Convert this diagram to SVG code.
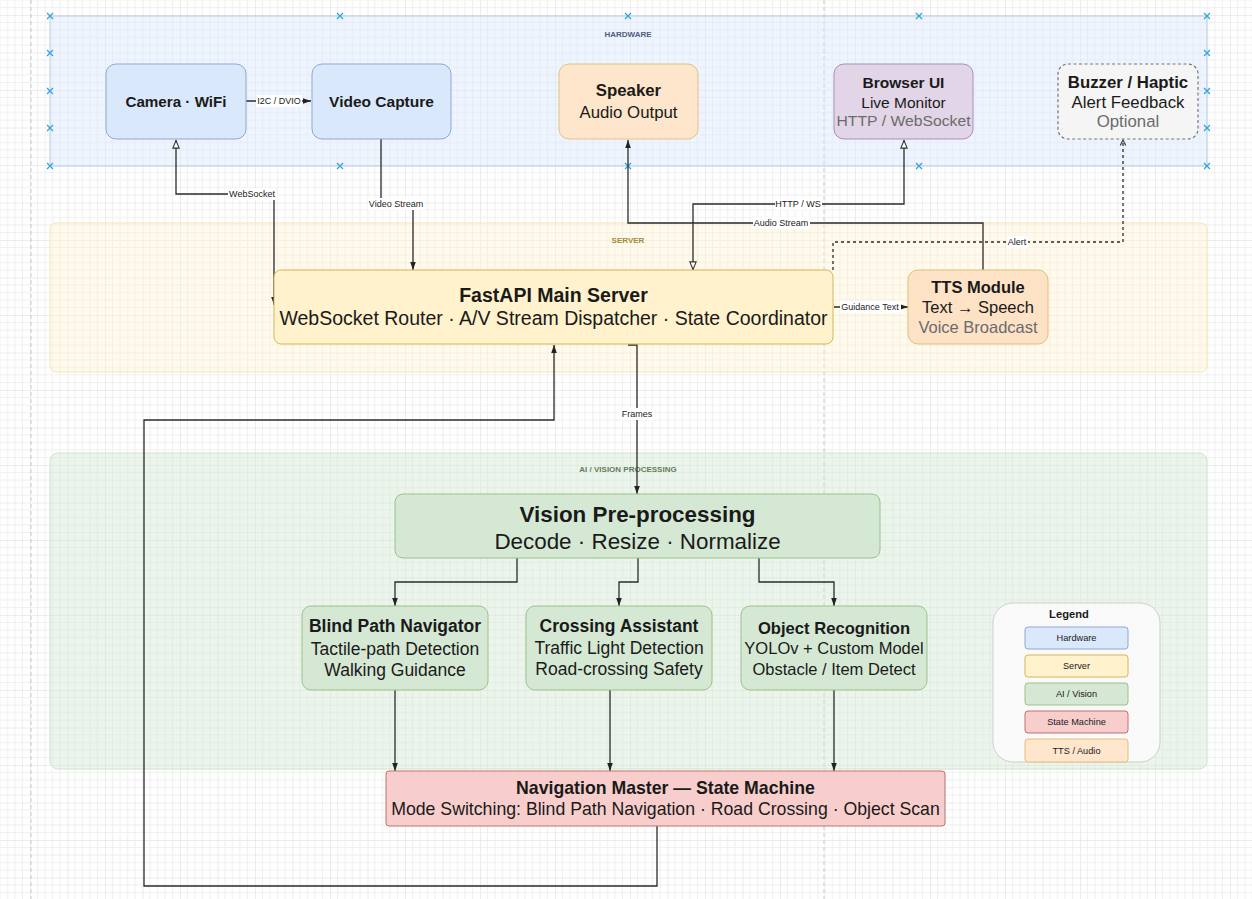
<svg xmlns="http://www.w3.org/2000/svg" width="1252" height="899" viewBox="0 0 1252 899">
<defs>
<pattern id="grid" x="30" y="15" width="37.5" height="37.5" patternUnits="userSpaceOnUse">
<path d="M7.5,0V37.5M15,0V37.5M22.5,0V37.5M30,0V37.5M0,7.5H37.5M0,15H37.5M0,22.5H37.5M0,30H37.5" stroke="#efefef" stroke-width="1" fill="none"/>
<path d="M0,0V37.5M0,0H37.5" stroke="#dcdcdc" stroke-width="1" fill="none"/>
</pattern>
<marker id="af" viewBox="0 0 10 10" refX="10" refY="5" markerWidth="8" markerHeight="8" markerUnits="userSpaceOnUse" orient="auto-start-reverse"><path d="M0,1.5L10,5L0,8.5Z" fill="#222"/></marker>
<marker id="ah" viewBox="0 0 10 10" refX="10" refY="5" markerWidth="9" markerHeight="9" markerUnits="userSpaceOnUse" orient="auto-start-reverse"><path d="M1,1.5L9.5,5L1,8.5Z" fill="#fff" stroke="#333" stroke-width="1.2"/></marker>
<marker id="ao" viewBox="0 0 10 10" refX="9" refY="5" markerWidth="8" markerHeight="8" markerUnits="userSpaceOnUse" orient="auto"><path d="M2,1.5L9,5L2,8.5" fill="none" stroke="#333" stroke-width="1.3"/></marker>
</defs>
<style>
text{font-family:"Liberation Sans",Arial,sans-serif;fill:#1a1a1a;text-anchor:middle}
.b{font-weight:bold}
.g{fill:#6b6b6b}
.lbl{font-size:9px;fill:#222}
.lb{fill:#fff}
.grp{font-size:8px;font-weight:bold}
.edge{fill:none;stroke:#2b2b2b;stroke-width:1.3}
.hw{fill:#dae8fc;stroke:#8ea9d1;stroke-width:1}
.sv{fill:#fff2cc;stroke:#d6b656;stroke-width:1}
.ai{fill:#d5e8d4;stroke:#9cc28a;stroke-width:1}
.sm{fill:#f8cecc;stroke:#c0706c;stroke-width:1}
.tt{fill:#ffe6cc;stroke:#e0c07a;stroke-width:1}
.x{stroke:#36a3dc;stroke-width:1.3}
.guide{stroke:#c9c9c9;stroke-width:1;stroke-dasharray:4 3}
</style>
<rect width="1252" height="899" fill="#fff"/>
<rect width="1252" height="899" fill="url(#grid)"/>
<line class="guide" x1="31" y1="0" x2="31" y2="899"/>
<line class="guide" x1="824" y1="0" x2="824" y2="899"/>

<g id="group-hardware">
<rect x="50" y="16" width="1157" height="150" fill="#dae8fc" fill-opacity="0.45" stroke="#b3cbe6" stroke-width="1"/>
<text class="grp" x="628" y="37" fill="#4d5f7a" style="fill:#4d5f7a">HARDWARE</text>
</g>
<g id="group-server">
<rect x="50" y="223" width="1157" height="149" rx="6" fill="#fff2cc" fill-opacity="0.4" stroke="#f3e6b8" stroke-width="1"/>
<text class="grp" x="628" y="243" style="fill:#a08c3c">SERVER</text>
</g>
<g id="group-ai">
<rect x="50" y="453" width="1157" height="316" rx="8" fill="#d5e8d4" fill-opacity="0.45" stroke="#cfe3cb" stroke-width="1"/>
<text class="grp" x="628" y="472" style="fill:#5f7d57">AI / VISION PROCESSING</text>
</g>

<g id="handles">
<path class="x" d="M47,13l6,6M53,13l-6,6M337,13l6,6M343,13l-6,6M625,13l6,6M631,13l-6,6M916,13l6,6M922,13l-6,6M1204,13l6,6M1210,13l-6,6
M47,163l6,6M53,163l-6,6M337,163l6,6M343,163l-6,6M625,163l6,6M631,163l-6,6M916,163l6,6M922,163l-6,6M1204,163l6,6M1210,163l-6,6
M47,50l6,6M53,50l-6,6M47,88l6,6M53,88l-6,6M47,125l6,6M53,125l-6,6
M1204,50l6,6M1210,50l-6,6M1204,88l6,6M1210,88l-6,6M1204,125l6,6M1210,125l-6,6"/>
</g>

<g id="connectors">
<path class="edge" d="M246,101H311" marker-end="url(#af)"/>
<path class="edge" d="M176,140V194H274V305" marker-start="url(#ah)" marker-end="url(#af)"/>
<path class="edge" d="M381,139V204H413V270" marker-end="url(#af)"/>
<path class="edge" d="M983,270V223H628V140" marker-end="url(#af)"/>
<path class="edge" d="M693,270V204H904V140" marker-start="url(#ah)" marker-end="url(#ah)"/>
<path class="edge" d="M833,270V242H1123V140" stroke-dasharray="3 3" marker-end="url(#ao)"/>
<path class="edge" d="M834,307H908" marker-end="url(#af)"/>
<path class="edge" d="M628,345H637V494" marker-end="url(#af)"/>
<path class="edge" d="M657,826V886H144V420H554V345" marker-end="url(#af)"/>
<path class="edge" d="M517,558V582H395V606" marker-end="url(#af)"/>
<path class="edge" d="M638,558V582H619V606" marker-end="url(#af)"/>
<path class="edge" d="M759,558V582H834V606" marker-end="url(#af)"/>
<path class="edge" d="M395,690V771" marker-end="url(#af)"/>
<path class="edge" d="M610,690V771" marker-end="url(#af)"/>
<path class="edge" d="M834,690V771" marker-end="url(#af)"/>
<rect class="lb" x="256" y="95" width="46" height="12"/><text class="lbl" x="279" y="104.2">I2C / DVIO</text>
<rect class="lb" x="228" y="188" width="48" height="12"/><text class="lbl" x="252" y="197.2">WebSocket</text>
<rect class="lb" x="368" y="198" width="57" height="12"/><text class="lbl" x="396" y="207.2">Video Stream</text>
<rect class="lb" x="775" y="198" width="47" height="12"/><text class="lbl" x="798" y="207.2">HTTP / WS</text>
<rect class="lb" x="753" y="217" width="57" height="12"/><text class="lbl" x="781" y="226.2">Audio Stream</text>
<rect class="lb" x="1007" y="236" width="21" height="12"/><text class="lbl" x="1017" y="245.2">Alert</text>
<rect class="lb" x="840" y="301" width="61" height="12"/><text class="lbl" x="870" y="310.2">Guidance Text</text>
<rect class="lb" x="621" y="408" width="33" height="12"/><text class="lbl" x="637" y="417.2">Frames</text>
</g>

<g id="camera">
<rect class="hw" x="106" y="64" width="140" height="75" rx="10"/>
<text class="b" x="176" y="107" font-size="15.2">Camera · WiFi</text>
</g>
<g id="video-capture">
<rect class="hw" x="312" y="64" width="139" height="75" rx="10"/>
<text class="b" x="381.5" y="107" font-size="15.5">Video Capture</text>
</g>
<g id="speaker">
<rect x="559" y="64" width="139" height="75" rx="10" fill="#fde6cb" stroke="#e3c382" stroke-width="1"/>
<text class="b" x="628.5" y="96" font-size="16.8">Speaker</text>
<text x="628.5" y="117.5" font-size="16.8">Audio Output</text>
</g>
<g id="browser-ui">
<rect x="834" y="64" width="139" height="75" rx="10" fill="#e1d5e7" stroke="#a88fb8" stroke-width="1"/>
<text class="b" x="903.5" y="88.3" font-size="15.5">Browser UI</text>
<text x="903.5" y="108" font-size="15.5">Live Monitor</text>
<text class="g" x="903.5" y="126" font-size="15" textLength="134" lengthAdjust="spacingAndGlyphs">HTTP / WebSocket</text>
</g>
<g id="buzzer">
<rect x="1058" y="64" width="140" height="75" rx="10" fill="#f5f5f5" stroke="#777" stroke-width="1.2" stroke-dasharray="3 2.5"/>
<text class="b" x="1128" y="87.5" font-size="16.8">Buzzer / Haptic</text>
<text x="1128" y="107.5" font-size="16.8">Alert Feedback</text>
<text class="g" x="1128" y="126.6" font-size="16.8">Optional</text>
</g>
<g id="fastapi">
<rect class="sv" x="274" y="270" width="559" height="74" rx="7"/>
<text class="b" x="553.5" y="301.8" font-size="19.5">FastAPI Main Server</text>
<text x="553.5" y="325.3" font-size="19.5">WebSocket Router · A/V Stream Dispatcher · State Coordinator</text>
</g>
<g id="tts">
<rect x="908" y="270" width="140" height="74" rx="10" fill="#fde2c6" stroke="#e0c07a" stroke-width="1"/>
<text class="b" x="978" y="292.5" font-size="16.5">TTS Module</text>
<text x="978" y="313" font-size="16.5">Text → Speech</text>
<text class="g" x="978" y="332.5" font-size="16.5">Voice Broadcast</text>
</g>
<g id="vision-pre">
<rect class="ai" x="395" y="494" width="485" height="64" rx="8"/>
<text class="b" x="637.5" y="521.8" font-size="22.4">Vision Pre-processing</text>
<text x="637.5" y="548.5" font-size="22.4">Decode · Resize · Normalize</text>
</g>
<g id="blind-path">
<rect class="ai" x="302" y="606" width="186" height="84" rx="9"/>
<text class="b" x="395" y="632" font-size="17.5">Blind Path Navigator</text>
<text x="395" y="655" font-size="17.5">Tactile-path Detection</text>
<text x="395" y="676" font-size="17.5">Walking Guidance</text>
</g>
<g id="crossing">
<rect class="ai" x="526" y="606" width="186" height="84" rx="9"/>
<text class="b" x="619" y="632" font-size="17.5">Crossing Assistant</text>
<text x="619" y="654" font-size="17.5">Traffic Light Detection</text>
<text x="619" y="675" font-size="17.5">Road-crossing Safety</text>
</g>
<g id="object-recognition">
<rect class="ai" x="741" y="606" width="186" height="84" rx="9"/>
<text class="b" x="834" y="633.5" font-size="16.6">Object Recognition</text>
<text x="834" y="654" font-size="16.5">YOLOv + Custom Model</text>
<text x="834" y="674.8" font-size="16.5">Obstacle / Item Detect</text>
</g>
<g id="nav-master">
<rect class="sm" x="386" y="771" width="559" height="55" rx="3"/>
<text class="b" x="665.5" y="794.2" font-size="17.7">Navigation Master — State Machine</text>
<text x="665.5" y="815.2" font-size="17.7">Mode Switching: Blind Path Navigation · Road Crossing · Object Scan</text>
</g>
<g id="legend">
<rect x="993" y="603" width="167" height="159" rx="20" fill="#fafafa" fill-opacity="0.92" stroke="#cfcfcf" stroke-width="1"/>
<text class="b" x="1069" y="618" font-size="11.2">Legend</text>
<rect class="hw" x="1025" y="627" width="103" height="22" rx="3"/>
<text x="1076.5" y="641.3" font-size="9.2">Hardware</text>
<rect class="sv" x="1025" y="655" width="103" height="22" rx="3"/>
<text x="1076.5" y="669.3" font-size="9.2">Server</text>
<rect class="ai" x="1025" y="683" width="103" height="22" rx="3"/>
<text x="1076.5" y="697.3" font-size="9.2">AI / Vision</text>
<rect class="sm" x="1025" y="711" width="103" height="22" rx="3"/>
<text x="1076.5" y="725.3" font-size="9.2">State Machine</text>
<rect class="tt" x="1025" y="739" width="103" height="23" rx="3"/>
<text x="1076.5" y="753.8" font-size="9.2">TTS / Audio</text>
</g>
</svg>
